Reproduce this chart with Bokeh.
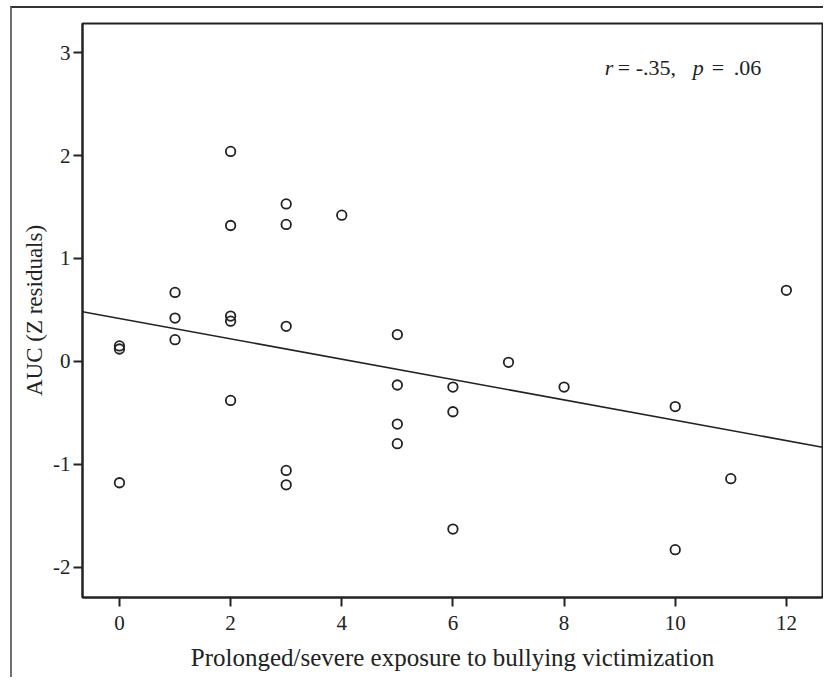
import numpy as np
from bokeh.plotting import figure
from bokeh.models import Label, FixedTicker, Range1d, PrintfTickFormatter
from bokeh.embed import file_html
from bokeh.resources import INLINE

# ---- data ----
exposure = [0, 0, 0,
            1, 1, 1,
            2, 2, 2, 2, 2,
            3, 3, 3, 3, 3,
            4,
            5, 5, 5, 5,
            6, 6, 6,
            7,
            8,
            10, 10,
            11,
            12]
auc_z = [0.15, 0.12, -1.18,
         0.67, 0.42, 0.21,
         2.04, 1.32, 0.44, 0.39, -0.38,
         1.53, 1.33, 0.34, -1.06, -1.20,
         1.42,
         0.26, -0.23, -0.61, -0.80,
         -0.25, -0.49, -1.63,
         -0.01,
         -0.25,
         -0.44, -1.83,
         -1.14,
         0.69]
x_ticks = [0, 2, 4, 6, 8, 10, 12]
y_ticks = [-2, -1, 0, 1, 2, 3]
x_label = "Prolonged/severe exposure to bullying victimization"
y_label = "AUC (Z residuals)"
stat_r = "-.35,"
stat_p = ".06"

X_START, X_END = -0.665, 12.65
Y_START, Y_END = -2.295, 3.283

INK = "#222222"
FONT = "Liberation Serif"

p = figure(width=813, height=671, output_backend="svg", toolbar_location=None,
           x_range=Range1d(X_START, X_END), y_range=Range1d(Y_START, Y_END),
           min_border_left=70, min_border_top=15, min_border_bottom=82,
           min_border_right=3,
           styles={"margin-left": "10px", "margin-top": "6px",
                   "border-left": "2px solid #707070",
                   "border-top": "2px solid #333333"})

p.xgrid.visible = False
p.ygrid.visible = False
p.outline_line_color = INK
p.outline_line_width = 2
p.background_fill_color = "white"
p.border_fill_color = "white"

for ax, ticks in ((p.xaxis, x_ticks), (p.yaxis, y_ticks)):
    ax.ticker = FixedTicker(ticks=ticks)
    ax.formatter = PrintfTickFormatter(format="%d")
    ax.axis_line_color = INK
    ax.axis_line_width = 2
    ax.major_tick_line_color = INK
    ax.major_tick_line_width = 2
    ax.major_tick_out = 9
    ax.major_tick_in = 0
    ax.minor_tick_line_color = None
    ax.major_label_text_font = FONT
    ax.major_label_text_font_size = "21px"
    ax.major_label_text_color = INK
    ax.axis_label_text_font = FONT
    ax.axis_label_text_font_style = "normal"
    ax.axis_label_text_color = INK

p.xaxis.axis_label = x_label
p.yaxis.axis_label = y_label
p.xaxis.axis_label_text_font_size = "25px"
p.yaxis.axis_label_text_font_size = "23px"
p.xaxis.major_label_standoff = 9
p.xaxis.axis_label_standoff = 11
p.yaxis.major_label_standoff = 3
p.yaxis.axis_label_standoff = 3

# regression line fitted from the data
slope, intercept = np.polyfit(exposure, auc_z, 1)
lx = np.array([X_START, X_END])
p.line(lx, intercept + slope * lx, line_color=INK, line_width=1.6)

p.scatter(exposure, auc_z, marker="circle", size=9.5, line_color=INK,
          line_width=1.8, fill_alpha=0)

# annotation r = -.35, p = .06 (pieces placed at the reference's pixel positions)
PX0, PXU = 119.3, 55.62      # pixel of x=0 and pixels per unit in the reference
PY0, PYU = 360.8, 102.9
def dx(px):
    return (px - PX0) / PXU
ty = (PY0 - 67) / PYU
parts = [("r", 605, "italic"), ("=", 618, "normal"), (stat_r, 636, "normal"),
         ("p", 693, "italic"), ("=", 712, "normal"), (stat_p, 734, "normal")]
for txt, px, style in parts:
    p.add_layout(Label(x=dx(px), y=ty, text=txt, text_font=FONT, text_font_size="22px",
                       text_font_style=style, text_color=INK,
                       text_baseline="alphabetic", text_align="left"))

open("out.html", "w").write(file_html(p, INLINE))
